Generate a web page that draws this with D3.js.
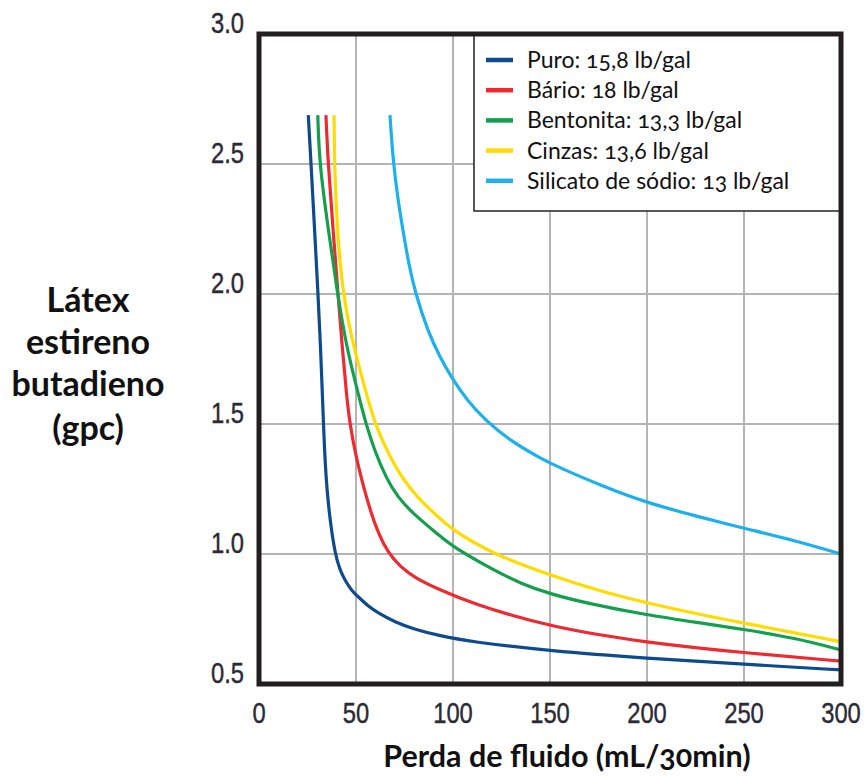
<!DOCTYPE html>
<html>
<head>
<meta charset="utf-8">
<script src="https://cdn.jsdelivr.net/npm/d3@7"></script>
<style>
  html, body { margin: 0; padding: 0; background: #ffffff; }
  svg { display: block; }
  .tick-label { font-family: "Liberation Sans Narrow", "Arial Narrow", "Liberation Sans", Arial, sans-serif; font-size: 29px; fill: #2b2a35; stroke: #2b2a35; stroke-width: 0.4px; }
  .axis-title { font-family: Lato, "Open Sans", sans-serif; font-weight: 700; fill: #111; font-variant-numeric: oldstyle-nums; }
  .legend-text { font-family: Lato, "Open Sans", sans-serif; font-size: 23px; fill: #111; font-variant-numeric: oldstyle-nums; }
</style>
</head>
<body>
<svg id="chart" width="867" height="776"></svg>
<script>
// Fluid loss (mL/30min) vs. styrene-butadiene latex dosage (gpc), per slurry type
const seriesNames = ["Puro: 15,8 lb/gal", "Bário: 18 lb/gal", "Bentonita: 13,3 lb/gal", "Cinzas: 13,6 lb/gal", "Silicato de sódio: 13 lb/gal"];
const seriesColors = ["#0d4a8e", "#ee2a30", "#13a04c", "#ffdc00", "#1cb1ec"];

// each point: [fluid loss, latex]
const puro = [[25.4,2.688],[26.8,2.504],[28.6,2.254],[30.4,2.004],[31.7,1.804],[32.7,1.604],[33.25,1.5],[34.0,1.362],[35.05,1.246],[36.6,1.131],[39.2,1.0],[41.75,0.938],[44.3,0.9],[47.4,0.862],[51.2,0.835],[56.2,0.8],[61.5,0.773],[70.1,0.738],[79.5,0.712],[93.3,0.685],[108.8,0.663],[150,0.627],[200,0.599],[250,0.576],[300,0.554]];
const bario = [[34.5,2.688],[35.6,2.504],[38.1,2.254],[40.7,2.004],[42.8,1.804],[45.2,1.604],[46.9,1.5],[49.5,1.392],[52.9,1.285],[57.6,1.16],[61.8,1.075],[66.5,1.005],[72.7,0.952],[80.4,0.908],[93.3,0.862],[108.8,0.812],[150,0.718],[200,0.659],[250,0.62],[300,0.588]];
const bentonita = [[30.3,2.688],[31.1,2.504],[35.6,2.254],[40.4,2.004],[44.85,1.804],[51.55,1.604],[55.15,1.5],[59.8,1.392],[66.0,1.285],[71.65,1.219],[78.9,1.158],[93.3,1.069],[100,1.027],[121.65,0.935],[134.5,0.888],[150,0.846],[170.6,0.808],[200,0.765],[227.3,0.735],[250,0.71],[276.3,0.677],[300,0.631]];
const cinzas = [[38.7,2.688],[38.9,2.504],[40.2,2.254],[43.1,2.004],[48.45,1.804],[55.8,1.604],[59.8,1.5],[66.5,1.388],[73.7,1.292],[81.96,1.215],[90.7,1.154],[99.6,1.092],[120.8,0.999],[150,0.919],[173.2,0.863],[200,0.81],[250,0.733],[300,0.663]];
const silicato = [[67.5,2.688],[69.2,2.504],[71.65,2.362],[74.4,2.235],[77.3,2.112],[80.4,2.008],[87.3,1.85],[93.3,1.758],[99.3,1.677],[107.2,1.592],[116.5,1.515],[129.4,1.436],[144.85,1.369],[155.15,1.331],[175.8,1.265],[200,1.196],[227.3,1.142],[250,1.099],[276.3,1.052],[300,1.0]];
const seriesData = [puro, bario, bentonita, cinzas, silicato];

const xTicks = [0, 50, 100, 150, 200, 250, 300];
const yTicks = [0.5, 1.0, 1.5, 2.0, 2.5, 3.0];
const xTitle = "Perda de fluido (mL/30min)";
const yTitleLines = ["Látex", "estireno", "butadieno", "(gpc)"];

const svg = d3.select("#chart");
const plot = { left: 259, right: 841, top: 34, bottom: 684 };

const x = d3.scaleLinear().domain([0, 300]).range([plot.left, plot.right]);
const y = d3.scaleLinear().domain([0.5, 3.0]).range([plot.bottom, plot.top]);

// grid
const grid = svg.append("g").attr("stroke", "#b4b4b4").attr("stroke-width", 2);
grid.selectAll("line.v").data(xTicks.slice(1, -1)).join("line")
  .attr("x1", d => x(d)).attr("x2", d => x(d))
  .attr("y1", plot.top).attr("y2", plot.bottom);
grid.selectAll("line.h").data(yTicks.slice(1, -1)).join("line")
  .attr("y1", d => y(d)).attr("y2", d => y(d))
  .attr("x1", plot.left).attr("x2", plot.right);

// legend box (white, sits over the grid)
const legend = svg.append("g");
legend.append("rect")
  .attr("x", 474).attr("y", plot.top).attr("width", plot.right - 474).attr("height", 211 - plot.top)
  .attr("fill", "#fff").attr("stroke", "#222").attr("stroke-width", 1.5);
seriesNames.forEach((name, i) => {
  const ly = 60 + i * 30.2;
  legend.append("line").attr("x1", 486).attr("x2", 513).attr("y1", ly).attr("y2", ly)
    .attr("stroke", seriesColors[i]).attr("stroke-width", 4.5);
  legend.append("text").attr("class", "legend-text").attr("x", 527).attr("y", ly + 8).text(name);
});

// curves (B-spline through the sampled points)
const line = d3.line().x(d => x(d[0])).y(d => y(d[1])).curve(d3.curveBasis);
svg.append("g").selectAll("path").data(seriesData).join("path")
  .attr("d", line).attr("fill", "none")
  .attr("stroke", (d, i) => seriesColors[i]).attr("stroke-width", 3.2)
  .attr("stroke-linejoin", "round");

// frame
svg.append("rect")
  .attr("x", plot.left).attr("y", plot.top)
  .attr("width", plot.right - plot.left).attr("height", plot.bottom - plot.top)
  .attr("fill", "none").attr("stroke", "#231f20").attr("stroke-width", 5);

// tick labels (condensed)
svg.append("g").selectAll("text").data(yTicks).join("text")
  .attr("class", "tick-label").attr("text-anchor", "end")
  .attr("transform", d => `translate(244,${y(d) - 1}) scale(0.82,1)`)
  .text(d => d.toFixed(1));
svg.append("g").selectAll("text").data(xTicks).join("text")
  .attr("class", "tick-label").attr("text-anchor", "middle")
  .attr("transform", d => `translate(${x(d)},723) scale(0.82,1)`)
  .text(d => d);

// axis titles
svg.append("text").attr("class", "axis-title").attr("font-size", 30.5)
  .attr("text-anchor", "middle").attr("x", 567).attr("y", 767).text(xTitle);
svg.append("g").selectAll("text").data(yTitleLines).join("text")
  .attr("class", "axis-title").attr("font-size", 34).attr("text-anchor", "middle")
  .attr("x", 88).attr("y", (d, i) => [312, 354, 396, 440][i])
  .text(d => d);
</script>
</body>
</html>
